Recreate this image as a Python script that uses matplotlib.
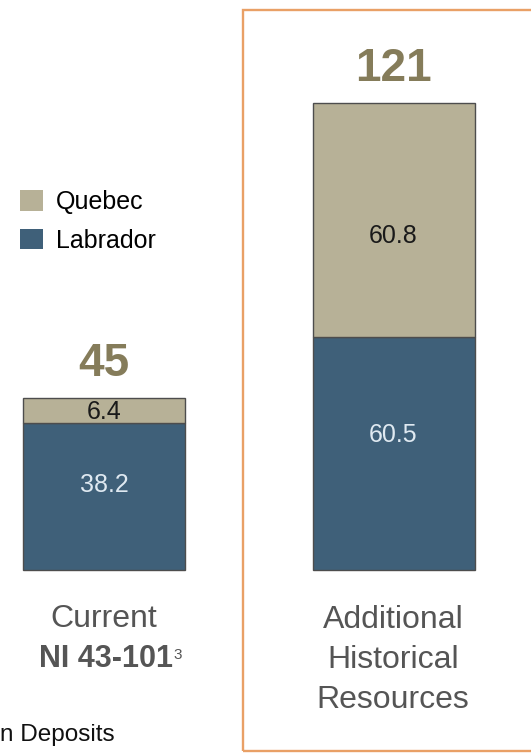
import matplotlib
matplotlib.use("Agg")
import matplotlib.pyplot as plt
from matplotlib.patches import Rectangle, Patch

plt.rcParams['font.family'] = ['Liberation Sans', 'DejaVu Sans']

# ---- data ----
categories = ["Current", "Additional Historical Resources"]
labrador = [38.2, 60.5]
quebec = [6.4, 60.8]
series_names = ["Quebec", "Labrador"]
footnote = "n Deposits"

# ---- style ----
C_QUE = "#b7b197"
C_LAB = "#3f6079"
C_EDGE = "#4d4d4d"
C_TOT = "#857c5a"
C_LBL = "#555555"
C_BOX = "#e9a066"

W, H = 531, 753
fig = plt.figure(figsize=(W / 100, H / 100), dpi=100)
ax = fig.add_axes([0, 0, 1, 1])
ax.set_axis_off()

def fx(px):
    return px / W

def fy(py):
    return 1 - py / H

# scale: baseline at pixel 570 from top, 3.85 px per unit
ppu = 3.85
ax.set_ylim(-(H - 570) / ppu, 570 / ppu)
ppx = 289.5
ax.set_xlim(-104 / ppx, (W - 104) / ppx)

xs = [0, 1]
bw = 162 / ppx
b1 = ax.bar(xs, labrador, width=bw, color=C_LAB, edgecolor=C_EDGE, linewidth=1)
b2 = ax.bar(xs, quebec, width=bw, bottom=labrador, color=C_QUE,
            edgecolor=C_EDGE, linewidth=1)

for x, l, q in zip(xs, labrador, quebec):
    ax.text(x, l * 0.58, f"{l}", ha="center", va="center", fontsize=18,
            color="#dfe9f1")
    ax.text(x, l + q * 0.43, f"{q}", ha="center", va="center", fontsize=18,
            color="#1a1a1a")
    tot = l + q
    ax.annotate(f"{round(tot)}", xy=(x, tot), xytext=(0, 16),
                textcoords="offset points", ha="center", va="baseline",
                fontsize=33, fontweight="bold", color=C_TOT)

# category labels
fig.text(fx(104), fy(627), "Current", ha="center", va="baseline",
         fontsize=23, color=C_LBL)
t_ni = fig.text(fx(106), fy(667), "NI 43-101", ha="center", va="baseline",
                fontsize=22, fontweight="bold", color=C_LBL)
ax.annotate("3", xy=(1, 1), xycoords=t_ni, xytext=(0.5, -3),
            textcoords="offset points", ha="left", va="top",
            fontsize=11, color=C_LBL)
for i, line in enumerate(["Additional", "Historical", "Resources"]):
    fig.text(fx(393), fy(628 + 40 * i), line, ha="center", va="baseline",
             fontsize=23, color=C_LBL)

# legend
handles = [Patch(facecolor=C_QUE, edgecolor="none"),
           Patch(facecolor=C_LAB, edgecolor="none")]
fig.legend(handles, series_names, loc="upper left",
           bbox_to_anchor=(fx(20), fy(190)), frameon=False, fontsize=18,
           handlelength=0.9, handleheight=0.9, handletextpad=0.55,
           labelspacing=0.58, borderpad=0, borderaxespad=0)

# footnote fragment
fig.text(0, fy(741), footnote, ha="left", va="baseline", fontsize=17.5,
         color="#111111")

# orange box
fig.patches.append(Rectangle((fx(243), fy(751)), fx(320), (751 - 10) / H,
                             transform=fig.transFigure, fill=False,
                             edgecolor=C_BOX, linewidth=1.7))

fig.savefig("out.png", dpi=100)
